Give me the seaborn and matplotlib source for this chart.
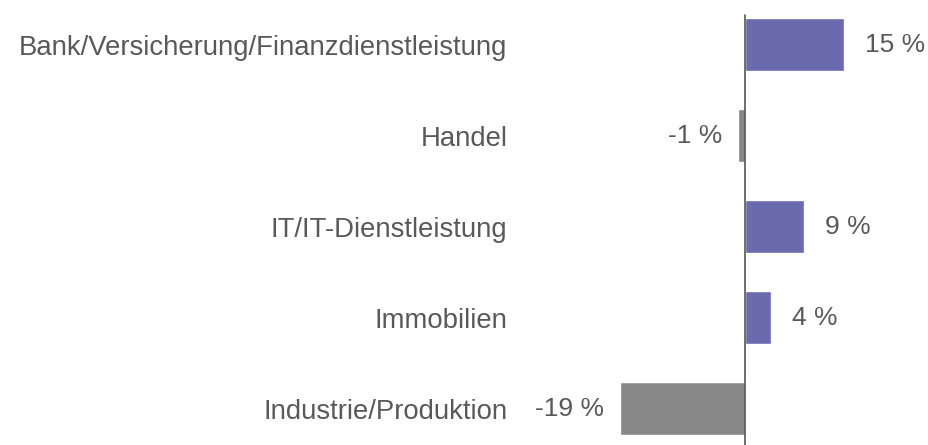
#!/usr/bin/env python3
#
# Change per sector, horizontal bars
#
import numpy as np
import matplotlib
matplotlib.use('Agg')
import matplotlib.pyplot as plt
import seaborn as sns
import pandas as pd

# Data
sectors = [
    'Bank/Versicherung/Finanzdienstleistung',
    'Handel',
    'IT/IT-Dienstleistung',
    'Immobilien',
    'Industrie/Produktion',
]
change = [15, -1, 9, 4, -19]
value_labels = ['15 %', '-1 %', '9 %', '4 %', '-19 %']

sns.set_style('white')
plt.rcParams['font.family'] = ['Liberation Sans', 'DejaVu Sans']

purple = '#6a6aae'
grey = '#888888'
text_color = '#595959'

df = pd.DataFrame({'sector': sectors, 'change': change})
df['sign'] = np.where(df['change'] >= 0, 'pos', 'neg')
palette = {'pos': purple, 'neg': grey}

fig = plt.figure(figsize=(9.29, 4.45), dpi=100)
ax = fig.add_axes([520 / 929, 0, 409 / 929, 435 / 445])

sns.barplot(
    data=df, x='change', y='sector', hue='sign', palette=palette,
    orient='h', dodge=False, width=0.58, legend=False, ax=ax,
    saturation=1,
)

ax.set_xlim(-34.1, 27.9)
ax.set_ylim(4.40, -0.38)
ax.axvline(0, ymin=0, ymax=(4.40 + 0.33) / (4.40 + 0.38),
           color='#555555', lw=1.2)

for s in ax.spines.values():
    s.set_visible(False)
ax.set_xticks([])
ax.set_xlabel('')
ax.set_ylabel('')
ax.tick_params(axis='y', length=0, pad=9, labelsize=19.8,
               labelcolor=text_color)

# Value labels
for i, (v, lab) in enumerate(zip(change, value_labels)):
    if v >= 0:
        ax.annotate(lab, (v, i), xytext=(21, 0), textcoords='offset pixels',
                    ha='left', va='center', fontsize=19, color=text_color)
    else:
        ax.annotate(lab, (v, i), xytext=(-16, 0), textcoords='offset pixels',
                    ha='right', va='center', fontsize=19, color=text_color)

plt.savefig('out.png', dpi=100)
